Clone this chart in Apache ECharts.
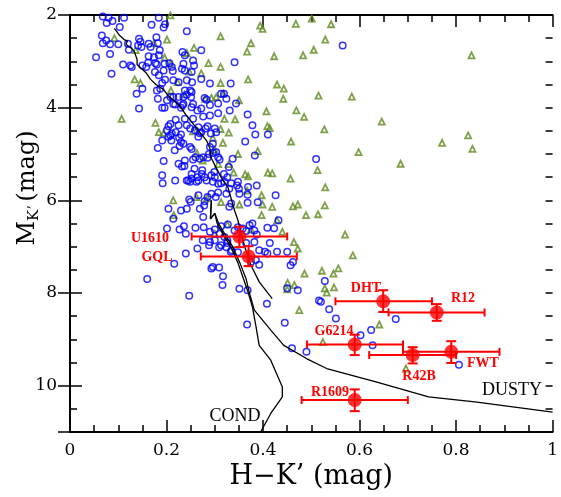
<!DOCTYPE html>
<html><head><meta charset="utf-8">
<script src="https://cdn.jsdelivr.net/npm/echarts@6/dist/echarts.min.js"></script>
<style>html,body{margin:0;padding:0;background:#fff}#c{width:561px;height:497px}</style>
</head><body><div id="c"></div>
<script>
// ---------- data ----------
const xTickValues = [0, 0.2, 0.4, 0.6, 0.8, 1];
const yTickValues = [2, 4, 6, 8, 10];

// blue open circles (H-K', M_K')
const fieldStars = [
[0.068,2.03],[0.080,2.06],[0.088,2.13],[0.076,2.17],[0.112,2.06],[0.184,2.06],[0.197,2.20],[0.169,2.21],[0.194,2.27],[0.103,2.26],
[0.066,2.44],[0.068,2.61],[0.075,2.55],[0.083,2.63],[0.100,2.63],[0.054,2.91],[0.083,2.84],[0.086,3.27],[0.110,3.07],[0.125,3.09],
[0.128,3.12],[0.143,2.51],[0.146,2.58],[0.141,2.66],[0.148,2.69],[0.122,2.75],[0.120,2.62],[0.163,2.62],[0.167,2.69],[0.179,2.48],
[0.182,2.61],[0.186,2.76],[0.184,2.87],[0.163,2.89],[0.174,2.91],[0.162,3.03],[0.158,3.12],[0.150,3.09],[0.177,3.04],[0.180,3.07],
[0.176,3.23],[0.196,3.05],[0.194,3.20],[0.206,3.04],[0.211,3.12],[0.213,3.21],[0.214,3.41],[0.242,2.35],[0.233,2.80],[0.238,2.87],
[0.235,3.05],[0.238,3.20],[0.232,3.16],[0.255,2.98],[0.257,3.09],[0.252,3.23],[0.272,2.76],[0.272,3.38],[0.290,3.48],[0.253,3.45],
[0.242,3.41],[0.225,3.45],[0.197,3.40],[0.191,3.47],[0.184,3.30],[0.187,3.59],[0.180,3.63],[0.182,3.81],[0.208,3.77],[0.201,3.84],
[0.214,3.92],[0.196,4.00],[0.191,4.00],[0.143,4.02],[0.138,3.70],[0.150,3.59],[0.238,3.63],[0.249,3.63],[0.242,3.72],[0.235,3.77],
[0.251,3.77],[0.252,3.66],[0.255,3.92],[0.235,3.92],[0.218,3.93],[0.214,3.77],[0.225,3.77],[0.233,3.95],[0.230,4.00],[0.252,3.99],
[0.264,4.06],[0.272,4.02],[0.279,3.79],[0.283,3.83],[0.290,3.94],[0.307,3.91],[0.324,3.81],[0.313,3.70],[0.333,3.48],[0.341,3.02],
[0.319,3.70],[0.331,4.06],[0.290,4.17],[0.276,4.19],[0.255,4.24],[0.238,4.24],[0.219,4.26],[0.208,4.35],[0.204,4.40],[0.225,4.38],
[0.242,4.38],[0.249,4.45],[0.266,4.42],[0.259,4.49],[0.269,4.55],[0.266,4.63],[0.272,4.53],[0.281,4.45],[0.285,4.40],[0.300,4.45],
[0.303,4.53],[0.292,4.56],[0.368,4.15],[0.378,4.38],[0.384,4.58],[0.410,4.58],[0.363,4.73],[0.383,5.03],[0.337,5.10],[0.329,5.28],
[0.307,5.07],[0.310,5.12],[0.303,4.96],[0.296,4.78],[0.290,4.85],[0.288,5.00],[0.296,4.98],[0.285,5.08],[0.276,5.07],[0.269,5.10],
[0.260,5.07],[0.255,5.12],[0.252,4.89],[0.249,4.85],[0.235,4.78],[0.230,4.74],[0.227,4.83],[0.217,4.92],[0.210,4.71],[0.204,4.63],
[0.211,4.56],[0.219,4.53],[0.230,4.58],[0.226,4.65],[0.201,4.49],[0.191,4.71],[0.182,4.87],[0.194,5.15],[0.225,5.21],[0.232,5.27],
[0.238,5.14],[0.237,5.26],[0.252,5.43],[0.258,5.32],[0.252,5.53],[0.245,5.57],[0.249,5.60],[0.262,5.60],[0.266,5.57],[0.264,5.50],
[0.274,5.35],[0.273,5.43],[0.279,5.50],[0.283,5.57],[0.293,5.46],[0.299,5.39],[0.300,5.50],[0.296,5.60],[0.307,5.64],[0.313,5.63],
[0.320,5.60],[0.319,5.43],[0.326,5.50],[0.330,5.75],[0.334,5.63],[0.348,5.60],[0.346,5.68],[0.350,5.75],[0.351,5.86],[0.369,5.71],
[0.368,5.88],[0.387,5.68],[0.368,6.05],[0.389,6.04],[0.426,5.89],[0.334,6.07],[0.330,6.14],[0.324,5.86],[0.307,5.83],[0.302,5.93],
[0.293,5.86],[0.285,5.93],[0.279,6.02],[0.278,6.11],[0.266,5.89],[0.247,5.98],[0.250,6.03],[0.242,6.18],[0.230,6.22],[0.204,6.18],
[0.214,6.40],[0.191,5.46],[0.192,5.63],[0.218,5.57],[0.242,5.57],[0.269,6.18],[0.208,4.60],[0.344,3.91],[0.307,4.12],
[0.201,6.61],[0.227,6.63],[0.236,6.56],[0.240,6.72],[0.260,6.59],[0.277,6.58],[0.290,6.68],[0.300,6.63],[0.313,6.56],[0.327,6.52],
[0.310,6.72],[0.320,6.79],[0.275,6.86],[0.290,6.90],[0.300,6.86],[0.309,7.01],[0.313,6.97],[0.326,6.92],[0.335,7.08],[0.324,7.01],
[0.333,7.11],[0.341,6.65],[0.348,6.58],[0.358,6.61],[0.365,6.66],[0.372,6.54],[0.378,6.50],[0.382,6.65],[0.387,6.74],[0.382,6.90],
[0.365,6.92],[0.392,7.08],[0.409,6.59],[0.414,6.92],[0.404,7.11],[0.409,7.15],[0.429,7.11],[0.450,7.11],[0.457,7.40],[0.462,7.33],
[0.240,7.15],[0.264,7.04],[0.216,7.37],[0.160,7.70],[0.247,8.06],[0.293,7.47],[0.296,7.44],[0.309,7.45],[0.317,7.64],[0.316,7.83],
[0.351,7.91],[0.368,7.94],[0.408,8.23],[0.367,8.68],[0.445,8.64],[0.375,7.33],[0.385,7.29],[0.392,7.39],
[0.276,6.36],[0.423,6.60],[0.326,6.86],[0.288,6.97],[0.348,7.12],
[0.432,6.43],[0.528,7.74],[0.472,7.94],[0.450,7.90],[0.516,8.16],[0.520,8.19],[0.537,8.35],[0.551,8.55],[0.675,8.56],
[0.624,8.80],[0.602,8.91],[0.627,9.13],[0.460,9.19],[0.490,9.27],[0.806,9.55],
[0.565,2.66],[0.510,5.11]
];

// olive open triangles
const youngStars = [
[0.208,2.01],[0.092,2.50],[0.136,2.76],[0.174,2.61],[0.201,2.53],[0.196,2.92],[0.208,3.05],[0.134,3.39],[0.146,3.47],[0.223,3.45],
[0.242,2.82],[0.257,2.71],[0.247,3.22],[0.272,3.26],[0.287,3.04],[0.312,3.12],[0.312,3.47],[0.318,3.70],[0.293,3.79],[0.303,3.77],
[0.280,3.81],[0.237,3.72],[0.350,3.84],[0.209,3.63],[0.107,4.24],[0.177,4.33],[0.184,4.53],[0.194,4.55],[0.255,4.51],[0.320,4.24],
[0.342,4.25],[0.312,4.46],[0.329,4.54],[0.296,4.65],[0.317,4.76],[0.300,4.91],[0.263,4.98],[0.275,5.14],[0.307,5.22],[0.329,5.22],
[0.348,5.00],[0.339,5.40],[0.363,5.44],[0.369,5.48],[0.367,5.79],[0.397,5.89],[0.399,6.09],[0.410,5.40],[0.419,5.42],[0.394,2.23],
[0.399,2.30],[0.312,2.46],[0.375,2.61],[0.367,2.79],[0.423,2.89],[0.369,3.39],[0.429,3.50],[0.407,4.08],[0.389,4.94],[0.409,4.40],
[0.414,4.44],[0.214,6.00],[0.262,5.93],[0.284,5.95],[0.313,6.04],[0.351,6.09],
[0.468,2.19],[0.501,2.08],[0.541,2.20],[0.529,2.53],[0.505,2.75],[0.483,2.87],[0.832,2.87],[0.443,3.59],[0.442,3.81],[0.515,3.74],
[0.584,3.76],[0.469,4.06],[0.485,4.20],[0.646,4.30],[0.527,4.47],[0.825,4.60],[0.458,4.73],[0.771,4.76],[0.834,4.89],[0.598,4.96],
[0.685,5.21],[0.513,5.35],[0.457,5.53],[0.529,5.72],[0.462,6.13],[0.472,6.09],[0.528,6.11],[0.489,6.32],[0.514,6.30],
[0.215,6.32],[0.300,6.72],[0.375,6.63],[0.397,6.32],[0.419,6.14],[0.429,6.43],[0.440,6.68],[0.326,6.52],
[0.570,6.74],[0.464,6.90],[0.472,7.04],[0.586,7.19],[0.556,7.47],[0.522,7.52],[0.546,7.58],[0.486,7.58],[0.451,7.78],[0.465,7.83],
[0.450,7.92],[0.528,7.90],[0.532,7.99],[0.547,7.88],[0.475,8.37],[0.641,8.68],[0.524,9.06],[0.696,9.63]
];

// model tracks
const upperTrack = [
[0.092,2.29],[0.102,2.43],[0.112,2.53],[0.119,2.56],[0.116,2.63],[0.126,2.71],[0.133,2.78],[0.139,2.96],[0.139,3.07],[0.146,3.14],
[0.157,3.24],[0.167,3.39],[0.178,3.50],[0.194,3.61],[0.204,3.75],[0.215,3.84],[0.228,3.97],[0.240,4.15],[0.249,4.27],[0.266,4.49],
[0.283,4.71],[0.290,4.88],[0.292,5.07],[0.300,5.24],[0.313,5.50],[0.327,5.71],[0.341,6.22],[0.348,6.43],[0.355,6.75],[0.365,7.10],
[0.375,7.40],[0.392,7.76],[0.419,8.12]
];
const condTrack = [
[0.293,6.00],[0.291,6.40],[0.300,6.28],[0.305,6.50],[0.318,6.75],[0.333,7.00],[0.348,7.35],[0.358,7.65],[0.368,7.95],[0.378,8.30],
[0.385,8.70],[0.392,9.13],[0.416,9.45],[0.440,10.03],[0.440,10.24],[0.416,10.60],[0.395,11.00]
];
const dustyTrack = [
[0.293,6.00],[0.291,6.40],[0.300,6.28],[0.308,6.50],[0.322,6.75],[0.337,7.00],[0.352,7.35],[0.365,7.70],[0.372,8.01],[0.382,8.37],
[0.416,8.80],[0.443,9.13],[0.491,9.42],[0.532,9.63],[0.634,9.92],[0.743,10.24],[0.839,10.35],[1.000,10.57]
];

// red objects with error bars
const objNames = ['U1610','GQL','DHT','R12','G6214','R42B','FWT','R1609'];
const objX     = [0.351, 0.370, 0.649, 0.760, 0.590, 0.710, 0.790, 0.590];
const objY     = [6.78, 7.21, 8.18, 8.42, 9.11, 9.34, 9.27, 10.31];
const objXLo   = [0.252, 0.271, 0.550, 0.660, 0.491, 0.620, 0.690, 0.480];
const objXHi   = [0.450, 0.470, 0.750, 0.859, 0.690, 0.800, 0.890, 0.700];
const objYLo   = [6.57, 6.99, 7.94, 8.24, 8.90, 9.17, 9.04, 10.08];
const objYHi   = [7.01, 7.42, 8.41, 8.60, 9.34, 9.52, 9.51, 10.55];

// ---------- chart ----------
const RED = '#ff0000';
const SERIF = '"DejaVu Serif", serif';
const chart = echarts.init(document.getElementById('c'), null, {renderer: 'canvas'});

const errData = objNames.map((n, i) => [objX[i], objY[i], objXLo[i], objXHi[i], objYLo[i], objYHi[i]]);

function baseX(pos, labels) {
  return {
    type: 'value', min: 0, max: 1, interval: 0.2, position: pos,
    axisLine: {show: true, lineStyle: {color: '#000', width: 2}},
    axisTick: {show: true, inside: true, length: 12, lineStyle: {color: '#000', width: 1.5}},
    minorTick: {show: true, splitNumber: 4, length: 7, lineStyle: {color: '#000', width: 1.5}},
    splitLine: {show: false}, minorSplitLine: {show: false},
    axisLabel: {show: labels, color: '#000', fontFamily: SERIF, fontSize: 17, margin: 10}
  };
}
function baseY(pos, labels, interval, len) {
  return {
    type: 'value', min: 2, max: 11, interval: interval, inverse: true, position: pos,
    axisLine: {show: true, lineStyle: {color: '#000', width: 2}},
    axisTick: {show: true, inside: true, length: len, lineStyle: {color: '#000', width: 1.5}},
    splitLine: {show: false},
    axisLabel: {show: labels, color: '#000', fontFamily: SERIF, fontSize: 17, margin: 13, showMaxLabel: false,
      formatter: v => (yTickValues.indexOf(v) >= 0 ? String(v) : '')}
  };
}

const xMain = baseX('bottom', true);
xMain.name = 'H\u2212K\u2019 (mag)';
xMain.nameLocation = 'middle';
xMain.nameGap = 31;
xMain.nameTextStyle = {fontFamily: SERIF, fontSize: 27, color: '#000'};

const labelPos = {
  U1610: [150, 238], GQL: [157, 257], DHT: [366, 288], R12: [463, 298],
  G6214: [334, 331], R42B: [419, 376], FWT: [483, 363], R1609: [330, 392]
};

const graphics = objNames.map(n => ({
  type: 'text', x: labelPos[n][0], y: labelPos[n][1], z: 100,
  style: {text: n, fill: RED, font: 'bold 14px "Liberation Serif"', textAlign: 'center', textVerticalAlign: 'middle'}
}));
graphics.push({type: 'text', x: 235, y: 416, z: 100,
  style: {text: 'COND', fill: '#000', font: '18px "Liberation Serif"', textAlign: 'center', textVerticalAlign: 'middle'}});
graphics.push({type: 'text', x: 512, y: 390, z: 100,
  style: {text: 'DUSTY', fill: '#000', font: '18px "Liberation Serif"', textAlign: 'center', textVerticalAlign: 'middle'}});
graphics.push({type: 'text', x: 28, y: 188, rotation: Math.PI / 2, z: 100,
  style: {
    text: '{m|M}{s|K\u2019} {m|(mag)}', fill: '#000', textAlign: 'center', textVerticalAlign: 'middle',
    rich: {
      m: {fontFamily: SERIF, fontSize: 24, fill: '#000'},
      s: {fontFamily: SERIF, fontSize: 15, fill: '#000', padding: [12, 0, 0, 0]}
    }
  }});

chart.setOption({
  animation: false,
  backgroundColor: '#fff',
  grid: {left: 70, right: 3, top: 15, bottom: 65, containLabel: false},
  xAxis: [xMain, baseX('top', false)],
  yAxis: [baseY('left', true, 2, 12), baseY('right', false, 2, 12),
          Object.assign(baseY('left', false, 0.5, 7), {axisLine: {show: false}}),
          Object.assign(baseY('right', false, 0.5, 7), {axisLine: {show: false}})],
  graphic: graphics,
  series: [
    {type: 'scatter', data: youngStars, symbol: 'triangle', symbolSize: 6,
     itemStyle: {color: 'rgba(0,0,0,0)', borderColor: '#5f8a1f', borderWidth: 1.8}, z: 2},
    {type: 'scatter', data: fieldStars, symbol: 'circle', symbolSize: 6.5,
     itemStyle: {color: 'rgba(0,0,0,0)', borderColor: '#0000ff', borderWidth: 1.5}, z: 3},
    {type: 'line', data: upperTrack, showSymbol: false, symbol: 'none', lineStyle: {color: '#000', width: 1.3}, z: 4},
    {type: 'line', data: condTrack, showSymbol: false, symbol: 'none', lineStyle: {color: '#000', width: 1.3}, z: 4},
    {type: 'line', data: dustyTrack, showSymbol: false, symbol: 'none', lineStyle: {color: '#000', width: 1.3}, z: 4},
    {type: 'custom', data: errData, z: 5, encode: {x: 0, y: 1},
     renderItem: function (params, api) {
       const y = api.value(1), x = api.value(0);
       const l = api.coord([api.value(2), y]), r = api.coord([api.value(3), y]);
       const t = api.coord([x, api.value(4)]), b = api.coord([x, api.value(5)]);
       const st = {stroke: RED, lineWidth: 2, fill: null};
       const hc = 4, vc = 5;
       return {type: 'group', children: [
         {type: 'line', shape: {x1: l[0], y1: l[1], x2: r[0], y2: r[1]}, style: st},
         {type: 'line', shape: {x1: l[0], y1: l[1] - hc, x2: l[0], y2: l[1] + hc}, style: st},
         {type: 'line', shape: {x1: r[0], y1: r[1] - hc, x2: r[0], y2: r[1] + hc}, style: st},
         {type: 'line', shape: {x1: t[0], y1: t[1], x2: b[0], y2: b[1]}, style: st},
         {type: 'line', shape: {x1: t[0] - vc, y1: t[1], x2: t[0] + vc, y2: t[1]}, style: st},
         {type: 'line', shape: {x1: b[0] - vc, y1: b[1], x2: b[0] + vc, y2: b[1]}, style: st}
       ]};
     }},
    {type: 'scatter', data: objNames.map((n, i) => [objX[i], objY[i]]), symbol: 'circle', symbolSize: 14,
     itemStyle: {color: RED}, z: 6}
  ]
});
</script></body></html>
